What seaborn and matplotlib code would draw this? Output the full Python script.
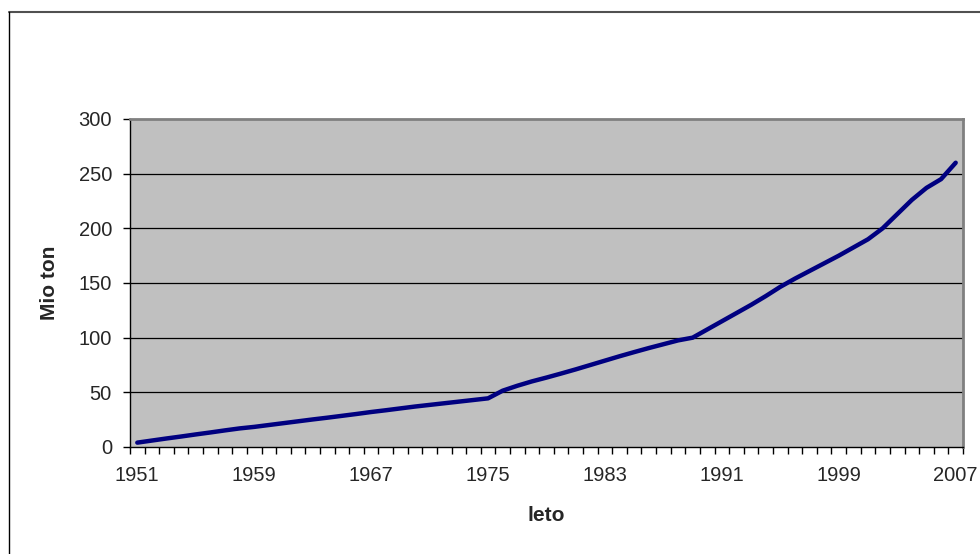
import matplotlib
matplotlib.use("Agg")
import matplotlib.pyplot as plt
from matplotlib.lines import Line2D
import numpy as np
import pandas as pd
import seaborn as sns

years = list(range(1951, 2008))
mio_ton = [
    4.0, 5.9, 7.8, 9.6, 11.5, 13.3, 15.2, 17.0, 18.4, 20.1,   # 1951-1960
    21.8, 23.5, 25.2, 26.8, 28.5, 30.2, 32.0, 33.6, 35.3, 37.0,  # 1961-1970
    38.5, 40.0, 41.5, 43.0, 44.5, 51.5, 56.0, 60.0, 63.5, 67.2,  # 1971-1980
    71.0, 75.0, 79.0, 83.0, 86.8, 90.5, 94.0, 97.5, 100.0, 107.5,  # 1981-1990
    115.0, 122.5, 130.0, 138.0, 146.5, 154.0, 161.0, 168.0, 175.0, 182.5,  # 1991-2000
    190.0, 200.0, 213.0, 226.0, 237.0, 245.0, 260.0,  # 2001-2007
]
x_labels = [1951, 1959, 1967, 1975, 1983, 1991, 1999, 2007]
y_ticks = [0, 50, 100, 150, 200, 250, 300]

df = pd.DataFrame({"leto": years, "Mio ton": mio_ton})

sns.set_style("white")
plt.rcParams["font.family"] = ["Liberation Sans", "DejaVu Sans"]

W, H = 980, 554
fig = plt.figure(figsize=(W / 100, H / 100), dpi=100)
fig.patch.set_facecolor("white")

# plot area in pixel coordinates
left, right, top, bottom = 130, 963, 119, 447
ax = fig.add_axes([left / W, 1 - bottom / H, (right - left) / W, (bottom - top) / H])
ax.set_facecolor("#C0C0C0")

sns.lineplot(data=df, x="leto", y="Mio ton", ax=ax, color="#000080",
             linewidth=3.2, solid_capstyle="round", solid_joinstyle="round",
             zorder=3)

ax.set_xlim(years[0] - 0.5, years[-1] + 0.5)
ax.set_ylim(0, 300)

# y axis
ax.set_yticks(y_ticks)
ax.set_yticklabels([str(v) for v in y_ticks], fontsize=14.5)
ax.tick_params(axis="y", direction="out", length=5, width=1, color="black",
               pad=8, left=True)
for v in y_ticks[1:-1]:
    ax.axhline(v, color="black", linewidth=0.9, zorder=1)

# x axis: labels on category centres, tick marks on category boundaries
ax.set_xticks(x_labels)
ax.set_xticklabels([str(v) for v in x_labels], fontsize=14.5)
ax.set_xticks(np.arange(years[0] - 0.5, years[-1] + 1.0, 1.0), minor=True)
ax.tick_params(axis="x", which="major", length=0, pad=14)
ax.tick_params(axis="x", which="minor", direction="out", length=5, width=1,
               color="black", bottom=True)

ax.set_xlabel("leto", fontsize=15, fontweight="bold", labelpad=15)
ax.set_ylabel("Mio ton", fontsize=15, fontweight="bold", labelpad=14)

for side in ("top", "right"):
    ax.spines[side].set_visible(True)
    ax.spines[side].set_color("#808080")
    ax.spines[side].set_linewidth(2)
for side in ("left", "bottom"):
    ax.spines[side].set_visible(True)
    ax.spines[side].set_color("black")
    ax.spines[side].set_linewidth(1)
ax.grid(False)

# chart area frame
fig.add_artist(Line2D([9 / W, 1.0], [1 - 12 / H, 1 - 12 / H],
                      transform=fig.transFigure, color="#505050", linewidth=1.5))
fig.add_artist(Line2D([9 / W, 9 / W], [0.0, 1 - 12 / H],
                      transform=fig.transFigure, color="black", linewidth=1))

fig.savefig("out.png", dpi=100)
